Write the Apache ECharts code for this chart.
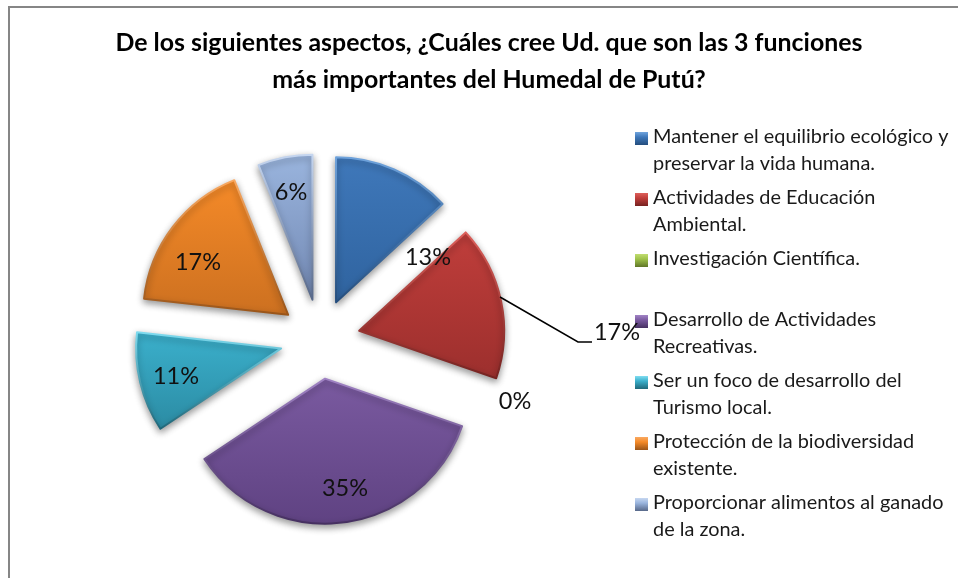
<!DOCTYPE html>
<html><head><meta charset="utf-8">
<style>html,body{margin:0;padding:0;background:#fff}#c{width:958px;height:578px}</style>
<script src="https://cdn.jsdelivr.net/npm/echarts@6/dist/echarts.min.js"></script>
</head><body><div id="c"></div>
<script>
const titleText = "De los siguientes aspectos, ¿Cuáles cree Ud. que son las 3 funciones\nmás importantes del Humedal de Putú?";
const categories = [
  "Mantener el equilibrio ecológico y\npreservar la vida humana.",
  "Actividades de Educación\nAmbiental.",
  "Investigación Científica.\n\u00a0",
  "Desarrollo de Actividades\nRecreativas.",
  "Ser un foco de desarrollo del\nTurismo local.",
  "Protección de la biodiversidad\nexistente.",
  "Proporcionar alimentos al ganado\nde la zona."
];
const values = [13, 17, 0, 35, 11, 17, 6];
const topColors = ["#3f78ba", "#c03e3b", "#9fc24a", "#7a5aa0", "#3bb0cc", "#f58a28", "#9ab5de"];
const bottomColors = ["#2f639f", "#9c2f2d", "#7f9c36", "#5f4282", "#2b8ba3", "#cc7020", "#7288b3"];
const edgeTop = ["#6fa3dc", "#dc5f5a", "#c0dc70", "#a083c4", "#7fdcf0", "#f9a860", "#c5d6f0"];
const edgeBottom = ["#234c7c", "#752220", "#5f7528", "#452f60", "#1e6678", "#995418", "#566788"];
const labelSpots = [[428,257],[617,332],[515,401],[345,488],[176,376],[198,262],[291,192]];
const leaderLine = [[500,297],[578,342],[592,342]];

const grad = (a, b) => ({type:'linear',x:0,y:0,x2:0,y2:1,colorStops:[{offset:0,color:a},{offset:1,color:b}]});
const swatchGrad = i => ({type:'linear',x:0,y:0,x2:0,y2:1,colorStops:[
  {offset:0.17,color:edgeTop[i]},{offset:0.26,color:topColors[i]},{offset:0.41,color:edgeBottom[i]}]});
const swatch = 'path://M0 9H13V22H0Z M0 0L0 0Z M0 54L0 54Z';
const pieCenter = [320,339], pieRadius = [0,145];

const chart = echarts.init(document.getElementById('c'), null, {renderer:'canvas'});
chart.setOption({
  animation:false,
  backgroundColor:'#fff',
  title:{
    text:titleText,left:484,top:19,textAlign:'center',
    textStyle:{fontFamily:'Lato',fontWeight:'bold',fontSize:24.9,lineHeight:37,color:'#000'}
  },
  graphic:[
    {type:'polyline',silent:true,shape:{points:[[9,590],[9,7],[970,7]]},style:{stroke:'#868686',lineWidth:2,fill:null}},
    {type:'polyline',silent:true,z:5,shape:{points:leaderLine},style:{stroke:'#000',lineWidth:1.5,fill:null}}
  ],
  legend:{
    orient:'vertical',left:630,top:118,itemWidth:13,itemHeight:54,itemGap:7,
    selectedMode:false,
    textStyle:{fontFamily:'Lato',fontSize:19.9,lineHeight:27,color:'#1a1a1a'},
    data:categories.map((n,i)=>({name:n,icon:swatch,itemStyle:{color:swatchGrad(i),borderWidth:0,shadowBlur:0,opacity:1}}))
  },
  series:[{
    type:'pie',
    center:pieCenter,radius:pieRadius,startAngle:90,clockwise:true,
    selectedMode:'multiple',selectedOffset:40,
    emphasis:{disabled:true},
    label:{show:false},labelLine:{show:false},
    data:categories.map((n,i)=>({
      name:n,value:values[i],selected:true,
      itemStyle: values[i]===0 ? {color:'rgba(0,0,0,0)',borderWidth:0} : {
        color:grad(topColors[i],bottomColors[i]),
        borderColor:grad(edgeTop[i],edgeBottom[i]),borderWidth:2,
        shadowBlur:7,shadowOffsetY:3,shadowColor:'rgba(0,0,0,0.4)'
      }
    }))
  },{
    type:'pie',silent:true,z:4,
    center:pieCenter,radius:pieRadius,startAngle:90,clockwise:true,
    avoidLabelOverlap:false,
    emphasis:{disabled:true},
    itemStyle:{color:'rgba(0,0,0,0)',borderWidth:0},
    label:{show:true,position:'outside',formatter:'{c}%',fontFamily:'Lato',fontSize:23.5,color:'#111'},
    labelLine:{show:false},
    labelLayout:p=>({x:labelSpots[p.dataIndex][0],y:labelSpots[p.dataIndex][1],align:'center',verticalAlign:'middle'}),
    data:categories.map((n,i)=>({name:n,value:values[i]}))
  }]
});
</script></body></html>
